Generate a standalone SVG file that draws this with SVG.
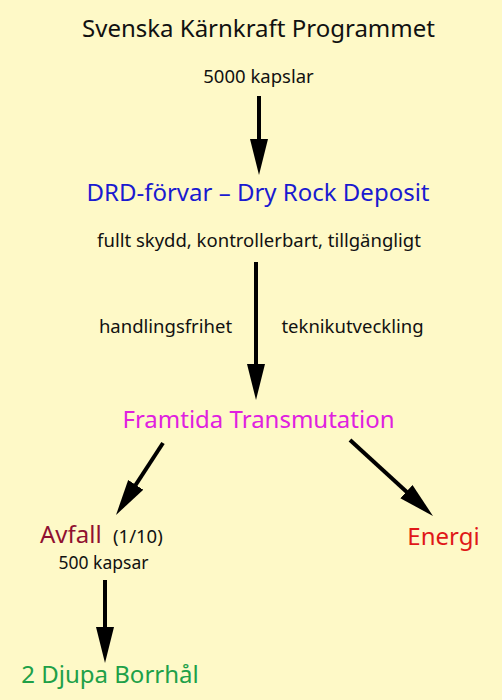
<svg xmlns="http://www.w3.org/2000/svg" width="502" height="700" viewBox="0 0 502 700">
<defs>
<marker id="ah" markerUnits="userSpaceOnUse" markerWidth="36" markerHeight="20" refX="26" refY="9" orient="auto">
<path d="M0,0 L36,9 L0,18 z" fill="#000"/>
</marker>
<style>
text{font-family:"Noto Sans","DejaVu Sans",sans-serif;text-anchor:middle}
.big{font-size:24px}
.sm{font-size:18.5px;fill:#111}
.ln{stroke:#000;stroke-width:4;fill:none;marker-end:url(#ah)}
</style>
</defs>
<rect width="502" height="700" fill="#fef9c7"/>
<g id="title"><text class="big" x="258.5" y="37" fill="#111">Svenska Kärnkraft Programmet</text></g>
<g id="kapslar"><text class="sm" x="258.5" y="83">5000 kapslar</text></g>
<g id="drd"><text class="big" x="258" y="201" fill="#1a1ad0">DRD-förvar – Dry Rock Deposit</text>
<text class="sm" x="259" y="247">fullt skydd, kontrollerbart, tillgängligt</text></g>
<g id="labels"><text class="sm" x="165.5" y="333">handlingsfrihet</text>
<text class="sm" x="352.5" y="333">teknikutveckling</text></g>
<g id="transmutation"><text class="big" x="258.5" y="428" fill="#e020e0">Framtida Transmutation</text></g>
<g id="avfall"><text x="40" y="543" style="text-anchor:start" class="big" fill="#901030">Avfall</text>
<text x="113" y="543" style="font-size:18.5px;text-anchor:start" fill="#111">(1/10)</text>
<text class="sm" x="103.5" y="569" style="font-size:17.5px">500 kapsar</text></g>
<g id="energi"><text class="big" x="443.5" y="545" fill="#e01818">Energi</text></g>
<g id="borrhal"><text class="big" x="110" y="683" fill="#20a048">2 Djupa Borrhål</text></g>
<g id="connectors">
<line class="ln" x1="259" y1="96" x2="259" y2="165"/>
<line class="ln" x1="256" y1="262" x2="256" y2="390"/>
<line class="ln" x1="163" y1="443" x2="121.5" y2="506.6"/>
<line class="ln" x1="350" y1="440" x2="425.6" y2="509.2"/>
<line class="ln" x1="105" y1="580" x2="105" y2="653"/>
</g>
</svg>
